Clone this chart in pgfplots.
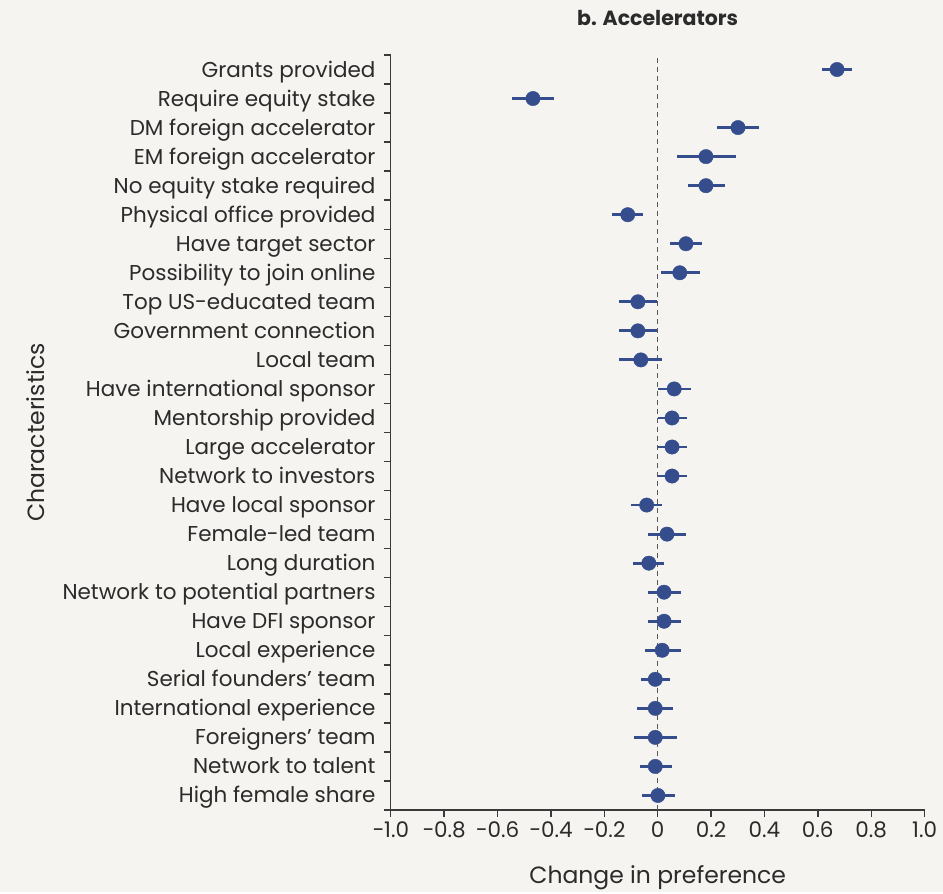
\documentclass[border=0pt]{standalone}
\usepackage{pgfplots}
\pgfplotsset{compat=1.18}
\usepackage{pgfplotstable}
\usepackage{fontspec}
\setmainfont{Poppins}
\definecolor{bgcol}{HTML}{F5F4F0}
\definecolor{dotblue}{HTML}{354D8D}
\definecolor{txt}{HTML}{2B2B2B}
\definecolor{axcol}{HTML}{3A3A3A}
\pgfplotstableread{
y m em ep
26 0.672 0.057 0.057
25 -0.467 0.077 0.079
24 0.301 0.078 0.079
23 0.181 0.107 0.112
22 0.181 0.067 0.072
21 -0.112 0.058 0.057
20 0.106 0.061 0.061
19 0.083 0.070 0.074
18 -0.074 0.072 0.073
17 -0.074 0.072 0.073
16 -0.063 0.083 0.078
15 0.062 0.061 0.062
14 0.054 0.054 0.057
13 0.054 0.054 0.057
12 0.054 0.054 0.057
11 -0.041 0.057 0.057
10 0.035 0.072 0.073
9 -0.033 0.058 0.058
8 0.024 0.059 0.063
7 0.024 0.059 0.063
6 0.017 0.066 0.070
5 -0.009 0.055 0.057
4 -0.009 0.067 0.068
3 -0.009 0.079 0.080
2 -0.009 0.057 0.064
1 0.001 0.059 0.063
}\accel
\begin{document}
\begin{tikzpicture}
\fill[bgcol] (-390.7pt,-82pt) rectangle (552.3pt,810pt);
\begin{axis}[
  at={(0,0)}, anchor=south west,
  scale only axis, width=533.9pt, height=755pt,
  xmin=-1, xmax=1, ymin=0.5, ymax=26.5,
  axis lines*=left,
  axis line style={axcol, line width=1.6pt},
  xtick={-1,-0.8,...,1.01},
  xticklabels={−1.0,−0.8,−0.6,−0.4,−0.2,0,0.2,0.4,0.6,0.8,1.0},
  ytick={1,...,26},
  yticklabels={High female share,Network to talent,Foreigners’ team,International experience,Serial founders’ team,Local experience,Have DFI sponsor,Network to potential partners,Long duration,Female-led team,Have local sponsor,Network to investors,Large accelerator,Mentorship provided,Have international sponsor,Local team,Government connection,Top US-educated team,Possibility to join online,Have target sector,Physical office provided,No equity stake required,EM foreign accelerator,DM foreign accelerator,Require equity stake,Grants provided},
  minor ytick={0.5,1.5,...,26.5},
  tick align=outside,
  major tick length=7pt, minor tick length=7pt,
  tick style={axcol, line width=1.4pt},
  major y tick style={draw=none},
  yticklabel style={font=\fontsize{21.5}{24}\selectfont, text=txt, anchor=east, inner sep=0pt, xshift=-8pt, text height=15pt, text depth=0pt},
  xticklabel style={font=\fontsize{21.5}{24}\selectfont, text=txt, anchor=north, inner sep=0pt, yshift=-5pt, text height=15pt, text depth=0pt},
  /pgf/number format/assume math mode=true,
  clip=false,
]
\draw[color=axcol!85, line width=1.2pt, dash pattern=on 5pt off 4pt] (axis cs:0,0.5) -- (axis cs:0,26.5);
\addplot[only marks, mark=*, mark size=7.2pt, color=dotblue,
  error bars/.cd, x dir=both, x explicit, error mark=none,
  error bar style={line width=2.8pt, color=dotblue}]
  table[x=m, y=y, x error plus=ep, x error minus=em] {\accel};
\end{axis}
\node[font=\bfseries\fontsize{20.5}{24}\selectfont, text=txt] at (267pt,792pt) {b. Accelerators};
\node[font=\fontsize{23.5}{28}\selectfont, text=txt] at (267pt,-68pt) {Change in preference};
\node[font=\fontsize{23.5}{28}\selectfont, text=txt, rotate=90] at (-355pt,377.5pt) {Characteristics};
\end{tikzpicture}
\end{document}
